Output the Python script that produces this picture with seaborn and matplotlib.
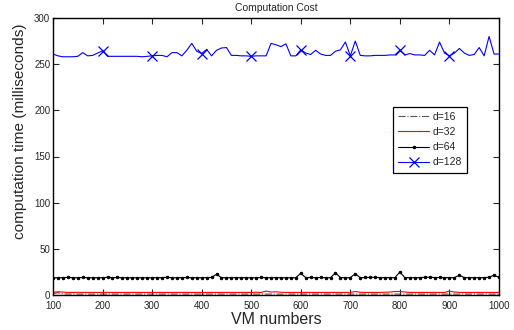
import numpy as np
import pandas as pd
import matplotlib
matplotlib.use("Agg")
import matplotlib.pyplot as plt
import seaborn as sns

vm_numbers = list(range(100, 1001, 10))

d128 = [261, 259, 258, 258, 258, 258.5, 262.5, 259, 259.5, 262,
        264.5, 258.5, 258.5, 258.5, 258.5, 258.5, 258.5, 258.5, 258, 258.5,
        259, 259.5, 259.5, 258, 262.5, 262.5, 259, 265, 272.5, 264,
        261.5, 266, 259, 265, 267.5, 268, 259.5, 259.5, 259, 259,
        258.5, 259, 259, 259, 272.5, 271, 269, 272, 259, 259,
        265.5, 262, 260.5, 265, 261, 259.5, 259.5, 264, 265.5, 274,
        259, 275, 259.5, 259, 259, 259.5, 259.5, 259.5, 260, 260,
        265, 260, 261.5, 260, 260, 259.5, 265, 260, 274, 262,
        259, 262, 267, 262, 259.5, 260.5, 268, 259, 280, 261,
        261]

d64 = [18.7, 18.7, 18.8, 19.1, 18.7, 18.7, 19.0, 18.7, 18.7, 18.8,
       18.7, 19.2, 18.8, 19.0, 18.7, 18.7, 18.7, 18.7, 18.7, 18.7,
       18.7, 18.8, 18.8, 19.2, 18.7, 18.7, 18.8, 19.0, 18.7, 18.8,
       18.7, 18.9, 19.0, 22.5, 18.7, 18.8, 18.7, 18.9, 18.7, 18.8,
       18.7, 18.7, 19.0, 18.8, 18.7, 18.9, 18.7, 18.7, 18.7, 18.7,
       23.5, 18.8, 19.0, 18.7, 19.0, 18.7, 18.7, 24.0, 18.9, 18.7,
       18.8, 23.0, 18.7, 19.0, 19.0, 19.2, 18.8, 18.8, 18.8, 18.8,
       25.0, 18.8, 18.8, 18.8, 18.8, 19.2, 19.2, 18.9, 19.0, 18.8,
       18.8, 18.8, 21.5, 18.8, 18.8, 18.8, 18.8, 18.8, 19.2, 21.5,
       19.0]

d32 = [3.0, 3.5, 3.2, 2.8, 2.8, 2.9, 2.8, 2.8, 2.8, 2.8,
       2.8, 2.9, 2.8, 2.8, 2.8, 2.8, 2.8, 2.8, 2.8, 2.8,
       2.8, 2.8, 2.8, 2.8, 2.8, 2.8, 2.8, 2.8, 2.8, 2.8,
       2.8, 2.8, 2.8, 2.8, 2.8, 2.8, 2.8, 2.8, 2.8, 2.8,
       2.8, 3.0, 2.8, 4.2, 3.2, 3.5, 3.0, 2.8, 2.8, 2.8,
       2.8, 2.8, 2.8, 2.8, 2.8, 2.8, 2.8, 2.8, 2.8, 2.8,
       2.8, 3.8, 3.0, 2.8, 2.8, 2.8, 2.8, 3.0, 3.2, 3.8,
       3.8, 3.2, 2.8, 2.8, 2.8, 2.8, 2.8, 2.8, 2.8, 2.8,
       4.2, 3.2, 2.8, 2.8, 2.8, 2.8, 2.8, 2.8, 2.8, 2.8,
       2.8]

d16 = [1.5, 2.5, 1.2, 1.0, 1.0, 1.0, 1.0, 1.0, 1.0, 1.0,
       1.0, 1.0, 1.0, 1.0, 1.0, 1.0, 1.0, 1.0, 1.0, 1.0,
       1.0, 1.0, 1.0, 1.0, 1.0, 1.0, 1.0, 1.0, 1.0, 1.0,
       1.0, 1.0, 1.0, 1.0, 1.0, 1.0, 1.0, 1.0, 1.0, 1.0,
       1.0, 1.0, 1.0, 1.0, 1.0, 1.0, 1.0, 1.0, 1.0, 1.0,
       1.0, 1.0, 1.0, 1.0, 1.0, 1.0, 1.0, 1.0, 1.0, 1.0,
       1.0, 1.0, 1.0, 1.0, 1.0, 1.0, 1.0, 1.0, 1.0, 1.0,
       1.0, 1.0, 1.0, 1.0, 1.0, 1.0, 1.0, 1.0, 1.0, 1.0,
       1.0, 1.0, 1.0, 1.0, 1.0, 1.0, 1.0, 1.0, 1.0, 1.0,
       1.0]

labels = ["d=16", "d=32", "d=64", "d=128"]
x_ticks = list(range(100, 1001, 100))
y_ticks = list(range(0, 301, 50))

sns.set_style("ticks")
plt.rcParams["font.family"] = ["Liberation Sans", "DejaVu Sans"]
plt.rcParams["xtick.direction"] = "in"
plt.rcParams["ytick.direction"] = "in"

fig = plt.figure(figsize=(5.14, 3.30), dpi=100)
ax = fig.add_axes([53 / 514, 35 / 330, 446 / 514, 277 / 330])

styles = [
    dict(color="#555555", linestyle="-.", linewidth=0.8, marker=None),
    dict(color="red", linestyle="-", linewidth=0.8, marker=None),
    dict(color="black", linestyle="-", linewidth=0.8, marker="."),
    dict(color="blue", linestyle="-", linewidth=0.8, marker="x"),
]
series = [d16, d32, d64, d128]

handles = []
for vals, st in zip(series, styles):
    sns.lineplot(x=vm_numbers, y=vals, ax=ax, legend=False)
    ln = ax.lines[-1]
    ln.set_color(st["color"])
    ln.set_linestyle(st["linestyle"])
    ln.set_linewidth(st["linewidth"])
    if st["marker"] == ".":
        ln.set_marker(".")
        ln.set_markersize(3.5)
        ln.set_markerfacecolor("black")
        ln.set_markeredgecolor("black")
    elif st["marker"] == "x":
        ln.set_marker("x")
        ln.set_markersize(6.5)
        ln.set_markeredgewidth(0.9)
        ln.set_markeredgecolor("blue")
        ln.set_markevery(slice(10, 81, 10))
    handles.append(ln)

ax.set_xlim(100, 1000)
ax.set_ylim(0, 300)
ax.set_xticks(x_ticks)
ax.set_yticks(y_ticks)
ax.tick_params(axis="both", which="both", labelsize=7, length=4, width=0.8,
               top=True, right=True)
ax.tick_params(axis="x", pad=4)
ax.tick_params(axis="y", pad=2)
for s in ax.spines.values():
    s.set_visible(True)
    s.set_linewidth(1.0)
    s.set_color("black")

ax.set_title("Computation Cost", fontsize=7.5, pad=5)
ax.set_xlabel("VM numbers", fontsize=11.5, labelpad=1)
ax.set_ylabel("computation time (milliseconds)", fontsize=11.1)
ax.yaxis.set_label_coords(-0.058, 0.592)

leg = ax.legend(handles=handles, labels=labels, loc="upper left",
                bbox_to_anchor=(0.762, 0.68), fontsize=7.5,
                frameon=True, fancybox=False, framealpha=1, edgecolor="black",
                handlelength=3.0, handletextpad=0.3, borderpad=0.5,
                labelspacing=0.5, borderaxespad=0)
leg.get_frame().set_linewidth(0.9)

fig.savefig("out.png", dpi=100)
